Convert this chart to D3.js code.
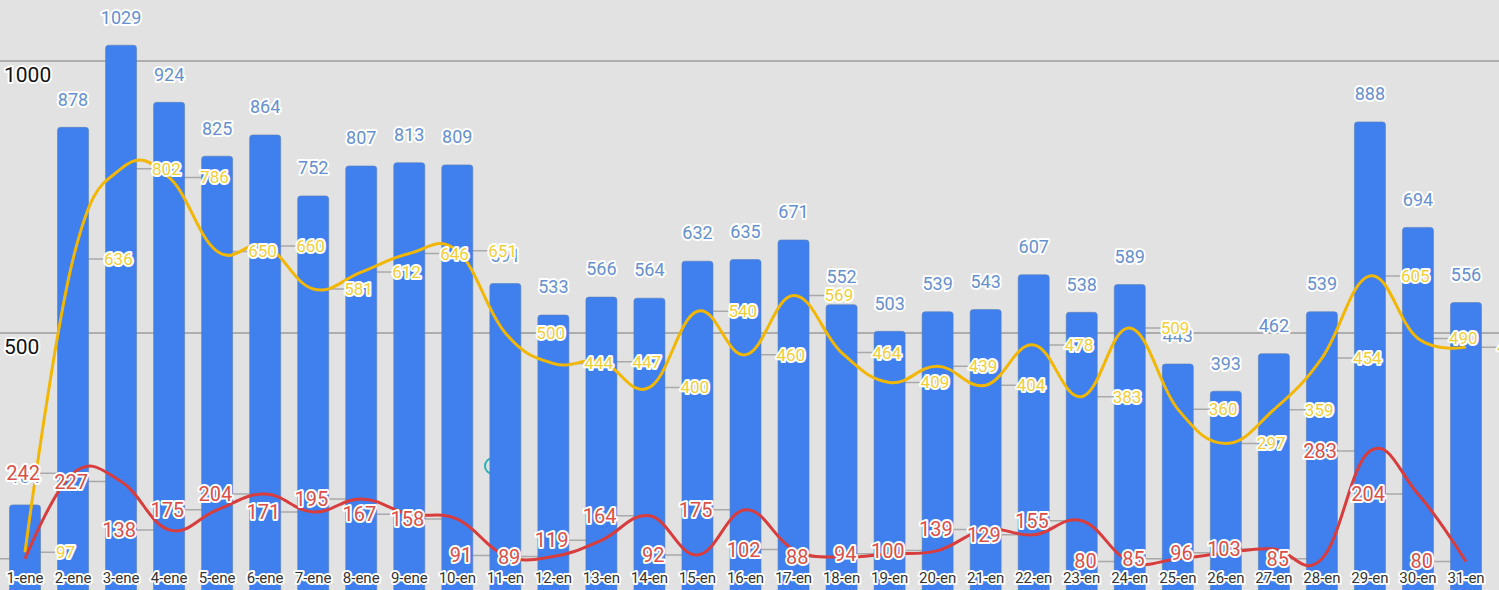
<!DOCTYPE html>
<html>
<head>
<meta charset="utf-8">
<script src="https://cdn.jsdelivr.net/npm/d3@7"></script>
<style>
  html, body { margin: 0; padding: 0; background: #e2e2e2; overflow: hidden; }
  svg { display: block; font-family: Roboto, "Noto Sans", sans-serif; }
  .halo { paint-order: stroke; stroke: #fff; stroke-width: 4px; stroke-linejoin: round; }
</style>
</head>
<body>
<script>
// days shown on the x axis (labels are truncated as in the app screenshot)
var days = ["1-ene","2-ene","3-ene","4-ene","5-ene","6-ene","7-ene","8-ene","9-ene","10-en",
  "11-en","12-en","13-en","14-en","15-en","16-en","17-en","18-en","19-en","20-en",
  "21-en","22-en","23-en","24-en","25-en","26-en","27-en","28-en","29-en","30-en","31-en"];

// blue bars
var barValues = [184, 878, 1029, 924, 825, 864, 752, 807, 813, 809,
  591, 533, 566, 564, 632, 635, 671, 552, 503, 539,
  543, 607, 538, 589, 443, 393, 462, 539, 888, 694, 556];

// yellow line
var yellowValues = [97, 636, 802, 786, 650, 660, 581, 612, 646, 651,
  500, 444, 447, 400, 540, 460, 569, 464, 409, 439,
  404, 478, 383, 509, 360, 297, 359, 454, 605, 490, 474];

// red line
var redValues = [85, 242, 227, 138, 175, 204, 171, 195, 167, 158,
  91, 89, 119, 164, 92, 175, 102, 88, 94, 100,
  139, 129, 155, 80, 85, 96, 103, 85, 283, 204, 80];

var gridTicks = [500, 1000];

var W = 1499, H = 590;
var svg = d3.select("body").append("svg").attr("width", W).attr("height", H);

var x = d3.scalePoint().domain(days).range([25, 1466]);
var y = d3.scaleLinear().domain([0, 1000]).range([605, 61]);
var barW = 31;

// grid lines and their labels
svg.selectAll("line.grid").data(gridTicks).enter().append("line")
  .attr("x1", 0).attr("x2", W)
  .attr("y1", function(d) { return y(d); }).attr("y2", function(d) { return y(d); })
  .attr("stroke", "#9b9b9b").attr("stroke-width", 1.5);

svg.selectAll("text.grid").data(gridTicks).enter().append("text")
  .attr("class", "halo")
  .attr("x", 4).attr("y", function(d) { return y(d) + 21; })
  .style("font-size", "21px").attr("fill", "#111")
  .text(function(d) { return d; });

// leader lines (sit under the bars, only show in the gaps)
function leaders(values, dir) {
  svg.append("g").selectAll("line").data(values).enter().append("line")
    .attr("x1", function(d, i) { return x(days[i]); })
    .attr("x2", function(d, i) { return x(days[i]) + dir * 33; })
    .attr("y1", function(d) { return y(d); })
    .attr("y2", function(d) { return y(d); })
    .attr("stroke", "#a9a9a9").attr("stroke-width", 1.5);
}
leaders(yellowValues, 1);
leaders(redValues, -1);

// small highlight ring behind 11-en
svg.append("circle").attr("cx", 493).attr("cy", 466).attr("r", 8)
  .attr("fill", "none").attr("stroke", "#2bb0b8").attr("stroke-width", 2);

// bars
svg.append("g").selectAll("rect").data(barValues).enter().append("rect")
  .attr("x", function(d, i) { return x(days[i]) - barW / 2; })
  .attr("y", function(d) { return y(d); })
  .attr("width", barW)
  .attr("height", function(d) { return y(0) - y(d); })
  .attr("rx", 3)
  .attr("fill", "#3f80ee")
  .attr("stroke", "#5a7fb8").attr("stroke-width", 0.6);

// smooth lines
var line = d3.line()
  .x(function(d, i) { return x(days[i]); })
  .y(function(d) { return y(d); })
  .curve(d3.curveCardinal.tension(-0.2));

svg.append("path").datum(yellowValues).attr("d", line)
  .attr("fill", "none").attr("stroke", "#f2b705").attr("stroke-width", 3);
svg.append("path").datum(redValues).attr("d", line)
  .attr("fill", "none").attr("stroke", "#d83c3c").attr("stroke-width", 3);

// x axis labels
svg.append("g").selectAll("text").data(days).enter().append("text")
  .attr("class", "halo")
  .attr("x", function(d) { return x(d); })
  .attr("y", 583)
  .attr("text-anchor", "middle")
  .style("font-size", "15px").attr("fill", "#333")
  .text(function(d) { return d; });

// bar value labels
svg.append("g").selectAll("text").data(barValues).enter().append("text")
  .attr("class", "halo")
  .attr("x", function(d, i) { return x(days[i]); })
  .attr("y", function(d) { return y(d) - 28; })
  .attr("dy", "0.35em")
  .attr("text-anchor", "middle")
  .style("font-size", "18px").attr("fill", "#6690d0")
  .text(function(d) { return d; });

// yellow labels, to the right of their points
svg.append("g").selectAll("text").data(yellowValues).enter().append("text")
  .attr("class", "halo")
  .attr("x", function(d, i) { return x(days[i]) + 31; })
  .attr("y", function(d) { return y(d); })
  .attr("dy", "0.35em")
  .attr("text-anchor", "start")
  .style("font-size", "17px").attr("fill", "#f2cf3a")
  .text(function(d) { return d; });

// red labels, to the left of their points
svg.append("g").selectAll("text").data(redValues).enter().append("text")
  .attr("class", "halo")
  .attr("x", function(d, i) { return x(days[i]) - 33; })
  .attr("y", function(d) { return y(d); })
  .attr("dy", "0.35em")
  .attr("text-anchor", "end")
  .style("font-size", "20px").attr("fill", "#da5049")
  .text(function(d) { return d; });
</script>
</body>
</html>
